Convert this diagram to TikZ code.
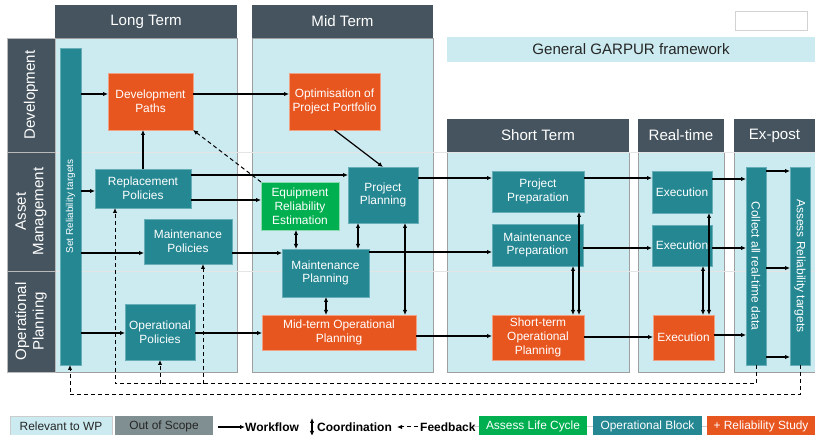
\documentclass[tikz,border=0pt]{standalone}
\usepackage{fontspec}
\setmainfont{Liberation Sans}
\usetikzlibrary{arrows.meta}
\usetikzlibrary{calc}
\definecolor{hdgray}{RGB}{69,84,94}
\definecolor{panelcyan}{RGB}{203,235,240}
\definecolor{opteal}{RGB}{36,135,146}
\definecolor{relorange}{RGB}{232,86,32}
\definecolor{lcgreen}{RGB}{0,176,80}
\definecolor{scopegray}{RGB}{128,143,145}
\newcommand{\boxfont}{\fontsize{11.9}{13.8}\selectfont}
\newcommand{\headfont}{\fontsize{15.1}{17.5}\selectfont}
\tikzset{
	blk/.style={draw, inner sep=0pt, outer sep=0pt, align=center, text=white, font=\boxfont},
	tealbox/.style={blk, fill=opteal, draw=opteal!60!panelcyan},
	orangebox/.style={blk, fill=relorange, draw=relorange!55!white},
	greenbox/.style={blk, fill=lcgreen, draw=lcgreen!45!white},
	header/.style={fill=hdgray, text=white, inner sep=0pt, outer sep=0pt, align=center, font=\headfont},
	panel/.style={fill=panelcyan, draw=gray!75},
	flow/.style={-{Latex[length=5pt,width=4.5pt]}, line width=1.2pt},
	coordarrow/.style={{Latex[length=5pt,width=4.5pt]}-{Latex[length=5pt,width=4.5pt]}, line width=1.2pt},
	fb/.style={-{Latex[length=5pt,width=4.5pt]}, line width=1pt, dash pattern=on 4pt off 3pt},
	legbox/.style={inner sep=0pt, outer sep=0pt, minimum height=20pt, font=\boxfont},
	legtxt/.style={inner sep=0pt, font=\fontsize{12}{14}\selectfont\bfseries},
}
\begin{document}
\begin{tikzpicture}[x=1pt, y=-1pt]
	\useasboundingbox (0,0) rectangle (815,435);
	% draw panels
	\filldraw[panel] (55,38) rectangle (237,372);
	\filldraw[panel] (252,38) rectangle (433,372);
	\filldraw[panel] (447,152) rectangle (629,372);
	\filldraw[panel] (638,152) rectangle (724,372);
	\filldraw[panel] (734,152) rectangle (817,372);
	\draw[black!10] (7,152) -- (815,152);
	\draw[black!10] (7,271) -- (815,271);
	% column headers
	\node[header, minimum width=182pt, minimum height=33pt] (hlong) at (146,21.5) {Long Term};
	\node[header, minimum width=181pt, minimum height=33pt] (hmid) at (342.5,21.5) {Mid Term};
	\node[header, minimum width=182pt, minimum height=33pt] (hshort) at (538,135.5) {Short Term};
	\node[header, minimum width=86pt, minimum height=33pt] (hreal) at (681,135.5) {Real-time};
	\node[header, minimum width=81pt, minimum height=33pt] (hexpost) at (774.5,135.5) {Ex-post};
	% row headers
	\node[header, draw=gray!55, rotate=90, minimum width=114pt, minimum height=48pt] (rdev) at (31,95) {Development};
	\node[header, draw=gray!55, rotate=90, minimum width=119pt, minimum height=48pt] (rasset) at (31,211.5) {Asset\\Management};
	\node[header, draw=gray!55, rotate=90, minimum width=101pt, minimum height=48pt] (rop) at (31,321.5) {Operational\\Planning};
	% top right
	\node[draw=gray!35, fill=white, minimum width=72pt, minimum height=19pt] (blank) at (771,20.5) {};
	\node[fill=panelcyan, inner sep=0pt, minimum width=368pt, minimum height=25pt, text=black!85, font=\headfont] (garpur) at (631,49.5) {General GARPUR framework};
	% long term blocks
	\node[tealbox, minimum width=21pt, minimum height=317pt] (srt) at (70.5,206.5) {};
	\node[rotate=90, text=white, font=\fontsize{10}{12}\selectfont] (srtlbl) at (srt) {Set Reliability targets};
	\node[orangebox, minimum width=85pt, minimum height=57pt] (dp) at (150.5,101.5) {Development\\Paths};
	\node[tealbox, minimum width=96pt, minimum height=39pt] (rp) at (143,188.5) {Replacement\\Policies};
	\node[tealbox, minimum width=88pt, minimum height=45pt] (mp) at (188,241.5) {Maintenance\\Policies};
	\node[tealbox, minimum width=70pt, minimum height=56pt] (op) at (160,332) {Operational\\Policies};
	% mid term blocks
	\node[orangebox, minimum width=91pt, minimum height=57pt] (opp) at (334.5,101.5) {Optimisation of\\Project Portfolio};
	\node[tealbox, minimum width=70pt, minimum height=56pt] (pp) at (383,195) {Project\\Planning};
	\node[greenbox, minimum width=78pt, minimum height=48pt] (ere) at (300,206) {Equipment\\Reliability\\Estimation};
	\node[tealbox, minimum width=87pt, minimum height=48pt] (mpl) at (325.5,273) {Maintenance\\Planning};
	\node[orangebox, minimum width=154pt, minimum height=35pt] (mop) at (339,332.5) {Mid-term Operational\\Planning};
	% short term blocks
	\node[tealbox, minimum width=92pt, minimum height=41pt] (prp) at (538,191.5) {Project\\Preparation};
	\node[tealbox, minimum width=91pt, minimum height=42pt] (mpr) at (537.5,245) {Maintenance\\Preparation};
	\node[orangebox, minimum width=92pt, minimum height=45pt] (sop) at (538,337.5) {Short-term\\Operational\\Planning};
	% real-time blocks
	\node[tealbox, minimum width=60pt, minimum height=42pt] (ex1) at (682,192) {Execution};
	\node[tealbox, minimum width=60pt, minimum height=41pt] (ex2) at (682,245.5) {Execution};
	\node[orangebox, minimum width=61pt, minimum height=45pt] (ex3) at (683.5,337.5) {Execution};
	% ex-post blocks
	\node[tealbox, minimum width=20pt, minimum height=198pt] (cad) at (756,266) {};
	\node[rotate=-90, text=white, font=\fontsize{12}{14}\selectfont] (cadlbl) at (cad) {Collect all real-time data};
	\node[tealbox, minimum width=20pt, minimum height=198pt] (art) at (800,266) {};
	\node[rotate=-90, text=white, font=\fontsize{12}{14}\selectfont] (artlbl) at (art) {Assess Reliability targets};
	% workflow
	\draw[flow] (srt.east |- 0,94) -- (dp.west |- 0,94);
	\draw[flow] (srt.east |- 0,191) -- (rp.west |- 0,191);
	\draw[flow] (srt.east |- 0,253) -- (mp.west |- 0,253);
	\draw[flow] (srt.east |- 0,333) -- (op.west |- 0,333);
	\draw[flow] (rp.north) -- (dp.south -| rp.north);
	\draw[flow] (dp.east |- 0,94) -- (opp.west |- 0,94);
	\draw[flow] (opp.south) -- (pp.north);
	\draw[flow] (rp.east |- 0,175) -- (pp.west |- 0,175);
	\draw[flow] (rp.east |- 0,200) -- (ere.west |- 0,200);
	\draw[flow] (mp.east |- 0,253) -- (mpl.west |- 0,253);
	\draw[flow] (op.east |- 0,333) -- (mop.west |- 0,333);
	\draw[flow] (pp.east |- 0,178) -- (prp.west |- 0,178);
	\draw[flow] (mpl.east |- 0,252) -- (mpr.west |- 0,252);
	\draw[flow] (mop.east |- 0,336) -- (sop.west |- 0,336);
	\draw[flow] (prp.east |- 0,178) -- (ex1.west |- 0,178);
	\draw[flow] (mpr.east |- 0,248) -- (ex2.west |- 0,248);
	\draw[flow] (sop.east |- 0,337) -- (ex3.west |- 0,337);
	\draw[flow] (ex1.east |- 0,179) -- (cad.west |- 0,179);
	\draw[flow] (ex2.east |- 0,248) -- (cad.west |- 0,248);
	\draw[flow] (ex3.east |- 0,335) -- (cad.west |- 0,335);
	\foreach \y in {171,268,357}
		\draw[flow] (cad.east |- 0,\y) -- (art.west |- 0,\y);
	% coordination
	\draw[coordarrow] (ere.south -| 296,0) -- (mpl.north -| 296,0);
	\draw[coordarrow] (pp.south -| 358,0) -- (mpl.north -| 358,0);
	\draw[coordarrow] (pp.south -| 405,0) -- (mop.north -| 405,0);
	\draw[coordarrow] (mpl.south -| 326,0) -- (mop.north -| 326,0);
	\draw[coordarrow] (mpr.south -| 573,0) -- (sop.north -| 573,0);
	\draw[coordarrow] (prp.south -| 579,0) -- (sop.north -| 579,0);
	\draw[coordarrow] (ex2.south -| 703,0) -- (ex3.north -| 703,0);
	\draw[coordarrow] (ex1.south -| 709,0) -- (ex3.north -| 709,0);
	% feedback
	\coordinate (fbin) at (115,384);
	\coordinate (fbout) at (70,395);
	\draw[fb] (ere.north west) -- (dp.south east);
	\draw[fb] (cad.south) -- (cad.south |- fbin) -- (fbin) -- (rp.south -| fbin);
	\draw[fb] (op.south |- fbin) -- (op.south);
	\draw[fb] (fbin -| 203,0) -- (mp.south -| 203,0);
	\draw[fb] (art.south) -- (art.south |- fbout) -- (fbout) -- (srt.south -| fbout);
	% legend
	\draw[black!20] (473,426) -- (815,426);
	\node[legbox, fill=panelcyan, draw=gray!40, text=black!85, minimum width=102pt] (lrel) at (61,426) {Relevant to WP};
	\node[legbox, fill=scopegray, text=black!85, minimum width=98pt] (loos) at (164,426) {Out of Scope};
	\coordinate (lwf) at (218,427);
	\node[legtxt, anchor=west] (lwft) at (245,427) {Workflow};
	\draw[flow] (lwf) -- (lwft.west);
	\node[legtxt, anchor=west] (lcot) at (317,427) {Coordination};
	\draw[coordarrow] ([xshift=-5pt]lcot.west |- 0,418) -- ([xshift=-5pt]lcot.west |- 0,436);
	\node[legtxt, anchor=west] (lfbt) at (420,427) {Feedback};
	\draw[fb] ([xshift=-2pt]lfbt.west) -- ++(-21,0);
	\node[legbox, fill=lcgreen, text=white, minimum width=108pt] (lalc) at (533,426) {Assess Life Cycle};
	\node[legbox, fill=opteal, text=white, minimum width=109pt] (lob) at (647.5,426) {Operational Block};
	\node[legbox, fill=relorange, text=white, minimum width=108pt] (lrs) at (761,426) {+ Reliability Study};
\end{tikzpicture}
\end{document}
